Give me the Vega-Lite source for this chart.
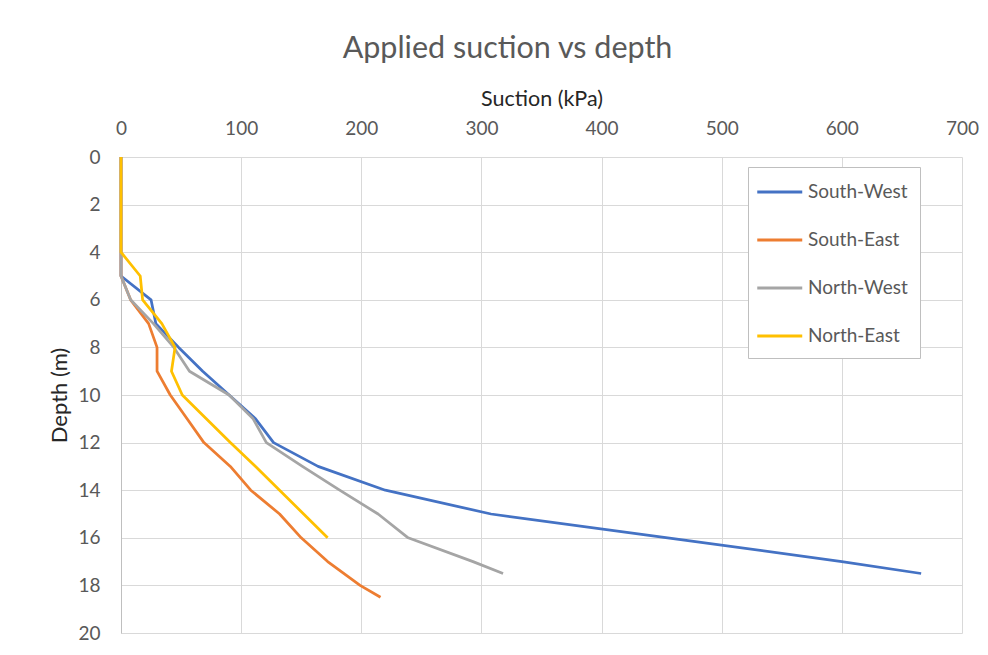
{
  "$schema": "https://vega.github.io/schema/vega-lite/v6.json",
  "autosize": {"type": "none"},
  "padding": {"left": 121, "top": 157, "right": 27, "bottom": 22},
  "width": 841,
  "height": 476,
  "background": "white",
  "title": {
    "text": "Applied suction vs depth",
    "anchor": "middle",
    "frame": "group",
    "dx": -34,
    "font": "Lato",
    "fontSize": 30.5,
    "fontWeight": "normal",
    "color": "#595959",
    "offset": 24
  },
  "config": {
    "font": "Lato",
    "view": {"stroke": null},
    "axis": {
      "labelFont": "Lato",
      "titleFont": "Lato",
      "labelColor": "#595959",
      "titleColor": "#262626",
      "titleFontWeight": "normal",
      "gridColor": "#d9d9d9",
      "gridWidth": 1,
      "ticks": false,
      "tickSize": 0
    }
  },
  "data": {
    "values": [
      {"series": "South-West", "depth": 0, "suction": 0},
      {"series": "South-West", "depth": 1, "suction": 0},
      {"series": "South-West", "depth": 2, "suction": 0},
      {"series": "South-West", "depth": 3, "suction": 0},
      {"series": "South-West", "depth": 4, "suction": 0},
      {"series": "South-West", "depth": 5, "suction": 0},
      {"series": "South-West", "depth": 6, "suction": 25},
      {"series": "South-West", "depth": 7, "suction": 29},
      {"series": "South-West", "depth": 8, "suction": 48},
      {"series": "South-West", "depth": 9, "suction": 68},
      {"series": "South-West", "depth": 10, "suction": 90},
      {"series": "South-West", "depth": 11, "suction": 112},
      {"series": "South-West", "depth": 12, "suction": 127},
      {"series": "South-West", "depth": 13, "suction": 164},
      {"series": "South-West", "depth": 14, "suction": 220},
      {"series": "South-West", "depth": 15, "suction": 308},
      {"series": "South-West", "depth": 16, "suction": 455},
      {"series": "South-West", "depth": 17, "suction": 600},
      {"series": "South-West", "depth": 17.5, "suction": 666},

      {"series": "South-East", "depth": 0, "suction": 0},
      {"series": "South-East", "depth": 1, "suction": 0},
      {"series": "South-East", "depth": 2, "suction": 0},
      {"series": "South-East", "depth": 3, "suction": 0},
      {"series": "South-East", "depth": 4, "suction": 0},
      {"series": "South-East", "depth": 5, "suction": 0},
      {"series": "South-East", "depth": 6, "suction": 8},
      {"series": "South-East", "depth": 7, "suction": 23},
      {"series": "South-East", "depth": 8, "suction": 30},
      {"series": "South-East", "depth": 9, "suction": 30},
      {"series": "South-East", "depth": 10, "suction": 41},
      {"series": "South-East", "depth": 11, "suction": 55},
      {"series": "South-East", "depth": 12, "suction": 69},
      {"series": "South-East", "depth": 13, "suction": 91},
      {"series": "South-East", "depth": 14, "suction": 108},
      {"series": "South-East", "depth": 15, "suction": 132},
      {"series": "South-East", "depth": 16, "suction": 150},
      {"series": "South-East", "depth": 17, "suction": 172},
      {"series": "South-East", "depth": 18, "suction": 199},
      {"series": "South-East", "depth": 18.5, "suction": 216},

      {"series": "North-West", "depth": 0, "suction": 0},
      {"series": "North-West", "depth": 1, "suction": 0},
      {"series": "North-West", "depth": 2, "suction": 0},
      {"series": "North-West", "depth": 3, "suction": 0},
      {"series": "North-West", "depth": 4, "suction": 0},
      {"series": "North-West", "depth": 5, "suction": 0},
      {"series": "North-West", "depth": 6, "suction": 8},
      {"series": "North-West", "depth": 7, "suction": 27},
      {"series": "North-West", "depth": 8, "suction": 44},
      {"series": "North-West", "depth": 9, "suction": 57},
      {"series": "North-West", "depth": 10, "suction": 90},
      {"series": "North-West", "depth": 11, "suction": 110},
      {"series": "North-West", "depth": 12, "suction": 121},
      {"series": "North-West", "depth": 13, "suction": 151},
      {"series": "North-West", "depth": 14, "suction": 182},
      {"series": "North-West", "depth": 15, "suction": 214},
      {"series": "North-West", "depth": 16, "suction": 239},
      {"series": "North-West", "depth": 17, "suction": 293},
      {"series": "North-West", "depth": 17.5, "suction": 318},

      {"series": "North-East", "depth": 0, "suction": 0},
      {"series": "North-East", "depth": 1, "suction": 0},
      {"series": "North-East", "depth": 2, "suction": 0},
      {"series": "North-East", "depth": 3, "suction": 0},
      {"series": "North-East", "depth": 4, "suction": 0},
      {"series": "North-East", "depth": 5, "suction": 16},
      {"series": "North-East", "depth": 6, "suction": 18},
      {"series": "North-East", "depth": 7, "suction": 34},
      {"series": "North-East", "depth": 8, "suction": 45},
      {"series": "North-East", "depth": 9, "suction": 42},
      {"series": "North-East", "depth": 10, "suction": 51},
      {"series": "North-East", "depth": 11, "suction": 71},
      {"series": "North-East", "depth": 12, "suction": 91},
      {"series": "North-East", "depth": 13, "suction": 112},
      {"series": "North-East", "depth": 14, "suction": 132},
      {"series": "North-East", "depth": 15, "suction": 152},
      {"series": "North-East", "depth": 16, "suction": 172}
    ]
  },
  "mark": {"type": "line", "strokeWidth": 2.75, "strokeJoin": "round", "strokeCap": "butt"},
  "encoding": {
    "x": {
      "field": "suction",
      "type": "quantitative",
      "scale": {"domain": [0, 700], "nice": false, "zero": true},
      "axis": {
        "orient": "top",
        "title": "Suction (kPa)",
        "titleFontSize": 21.5,
        "titleY": -58,
        "titleBaseline": "middle",
        "values": [0, 100, 200, 300, 400, 500, 600, 700],
        "labelFontSize": 19,
        "labelBaseline": "middle",
        "labelPadding": 28.5,
        "labelFlush": false,
        "domain": false,
        "grid": true
      }
    },
    "y": {
      "field": "depth",
      "type": "quantitative",
      "scale": {"domain": [0, 20], "reverse": true, "nice": false},
      "axis": {
        "title": "Depth (m)",
        "titleFontSize": 22,
        "titleX": -62,
        "titleBaseline": "middle",
        "values": [0, 2, 4, 6, 8, 10, 12, 14, 16, 18, 20],
        "labelFontSize": 19,
        "labelPadding": 21,
        "labelBaseline": "middle",
        "labelFlush": false,
        "domain": true,
        "domainColor": "#bfbfbf",
        "domainWidth": 1,
        "grid": true
      }
    },
    "color": {
      "field": "series",
      "type": "nominal",
      "scale": {
        "domain": ["South-West", "South-East", "North-West", "North-East"],
        "range": ["#4472C4", "#ED7D31", "#A5A5A5", "#FFC000"]
      },
      "legend": {
        "title": null,
        "orient": "none",
        "legendX": 627,
        "legendY": 10,
        "direction": "vertical",
        "columns": 1,
        "gridAlign": "all",
        "symbolType": "M-1.4,0H2.6",
        "symbolSize": 506,
        "symbolStrokeWidth": 3,
        "labelFont": "Lato",
        "labelFontSize": 19,
        "labelColor": "#595959",
        "labelOffset": 22,
        "rowPadding": 25,
        "padding": 12,
        "strokeColor": "#bfbfbf",
        "fillColor": "white"
      }
    },
    "order": {"field": "depth", "type": "quantitative"}
  }
}
